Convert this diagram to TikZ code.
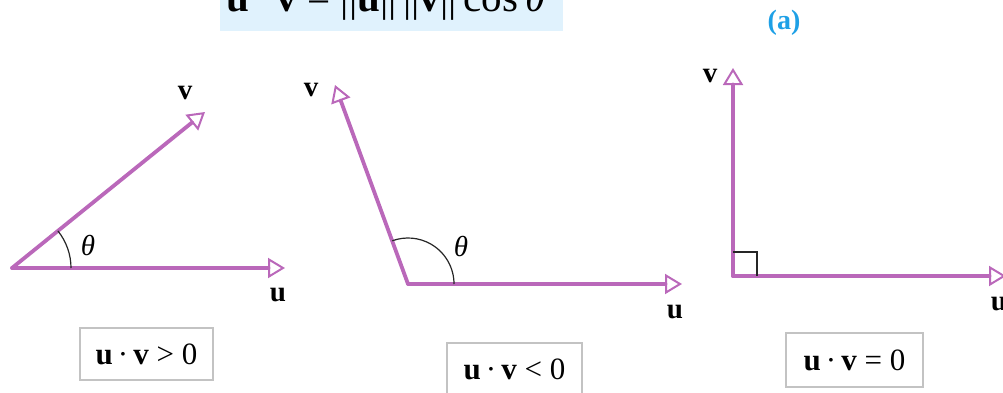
\documentclass[tikz,border=0pt]{standalone}
\usepackage{fontspec}
\setmainfont{Liberation Serif}
\usetikzlibrary{arrows.meta}
\definecolor{vecpurple}{RGB}{186,104,186}
\definecolor{boxgray}{RGB}{195,195,195}
\definecolor{formulabg}{RGB}{224,242,253}
\definecolor{labelblue}{RGB}{30,160,230}
\begin{document}
\begin{tikzpicture}[x=1pt,y=1pt,
  vec/.style={draw=vecpurple, line width=3.8pt, line cap=round,
    -{Triangle[open, length=17pt 0, width=20pt 0, line width=2pt 0]}},
  lbl/.style={font=\fontsize{29}{32}\selectfont\bfseries, inner sep=0pt},
  thlbl/.style={font=\fontsize{29}{32}\selectfont\itshape, inner sep=0pt},
  anglearc/.style={draw=black!85, line width=1.2pt},
  condbox/.style={draw=boxgray, line width=1.4pt, minimum height=52pt, inner sep=0pt,
    font=\fontsize{31}{34}\selectfont}]
\useasboundingbox (0,0) rectangle (1003,392);
% top formula strip (cut off)
\fill[formulabg] (220,361) rectangle (563,400);
\node[anchor=base, inner sep=0pt, font=\fontsize{41}{44}\selectfont] (formula) at (386,380)
  {\textbf{u}\,·\,\textbf{v} = ||\textbf{u}||\,||\textbf{v}||\,cos\,\textit{θ}};
\node[font=\fontsize{28}{32}\selectfont\bfseries, text=labelblue, inner sep=0pt] (tag) at (784,369) {(a)};

% panel 1
\coordinate (o1) at (12,124);
\coordinate (u1) at (285,124);
\coordinate (v1) at (205,280);
\draw[vec] (o1) -- (u1);
\draw[vec] (o1) -- (v1);
\draw[anglearc] (o1) ++(0:59) arc[start angle=0, end angle=39, radius=59];
\node[thlbl] (th1) at (88,147) {θ};
\node[lbl] (v1l) at (185,299) {v};
\node[lbl] (u1l) at (278,97) {u};
\node[condbox, minimum width=133pt] (b1) at (146.5,38) {\textbf{u}\,·\,\textbf{v} > 0};

% panel 2
\coordinate (o2) at (408,108);
\coordinate (u2) at (682,108);
\coordinate (v2) at (335,307);
\draw[vec] (o2) -- (u2);
\draw[vec] (o2) -- (v2);
\draw[anglearc] (o2) ++(0:46) arc[start angle=0, end angle=110, radius=46];
\node[thlbl] (th2) at (461,146) {θ};
\node[lbl] (v2l) at (311,302) {v};
\node[lbl] (u2l) at (675,80) {u};
\node[condbox, minimum width=135pt] (b2) at (514.5,23) {\textbf{u}\,·\,\textbf{v} < 0};

% panel 3
\coordinate (o3) at (733,116);
\coordinate (u3) at (1006,116);
\coordinate (v3) at (733,324);
\draw[vec] (o3) -- (u3);
\draw[vec] (o3) -- (v3);
\draw[draw=black!85, line width=1.2pt] (o3) ++(0,24) -| ++(24,-24);
\node[lbl] (v3l) at (710,316) {v};
\node[lbl] (u3l) at (999,88) {u};
\node[condbox, minimum width=137pt, minimum height=54pt] (b3) at (854.5,32) {\textbf{u}\,·\,\textbf{v} = 0};
\end{tikzpicture}
\end{document}
